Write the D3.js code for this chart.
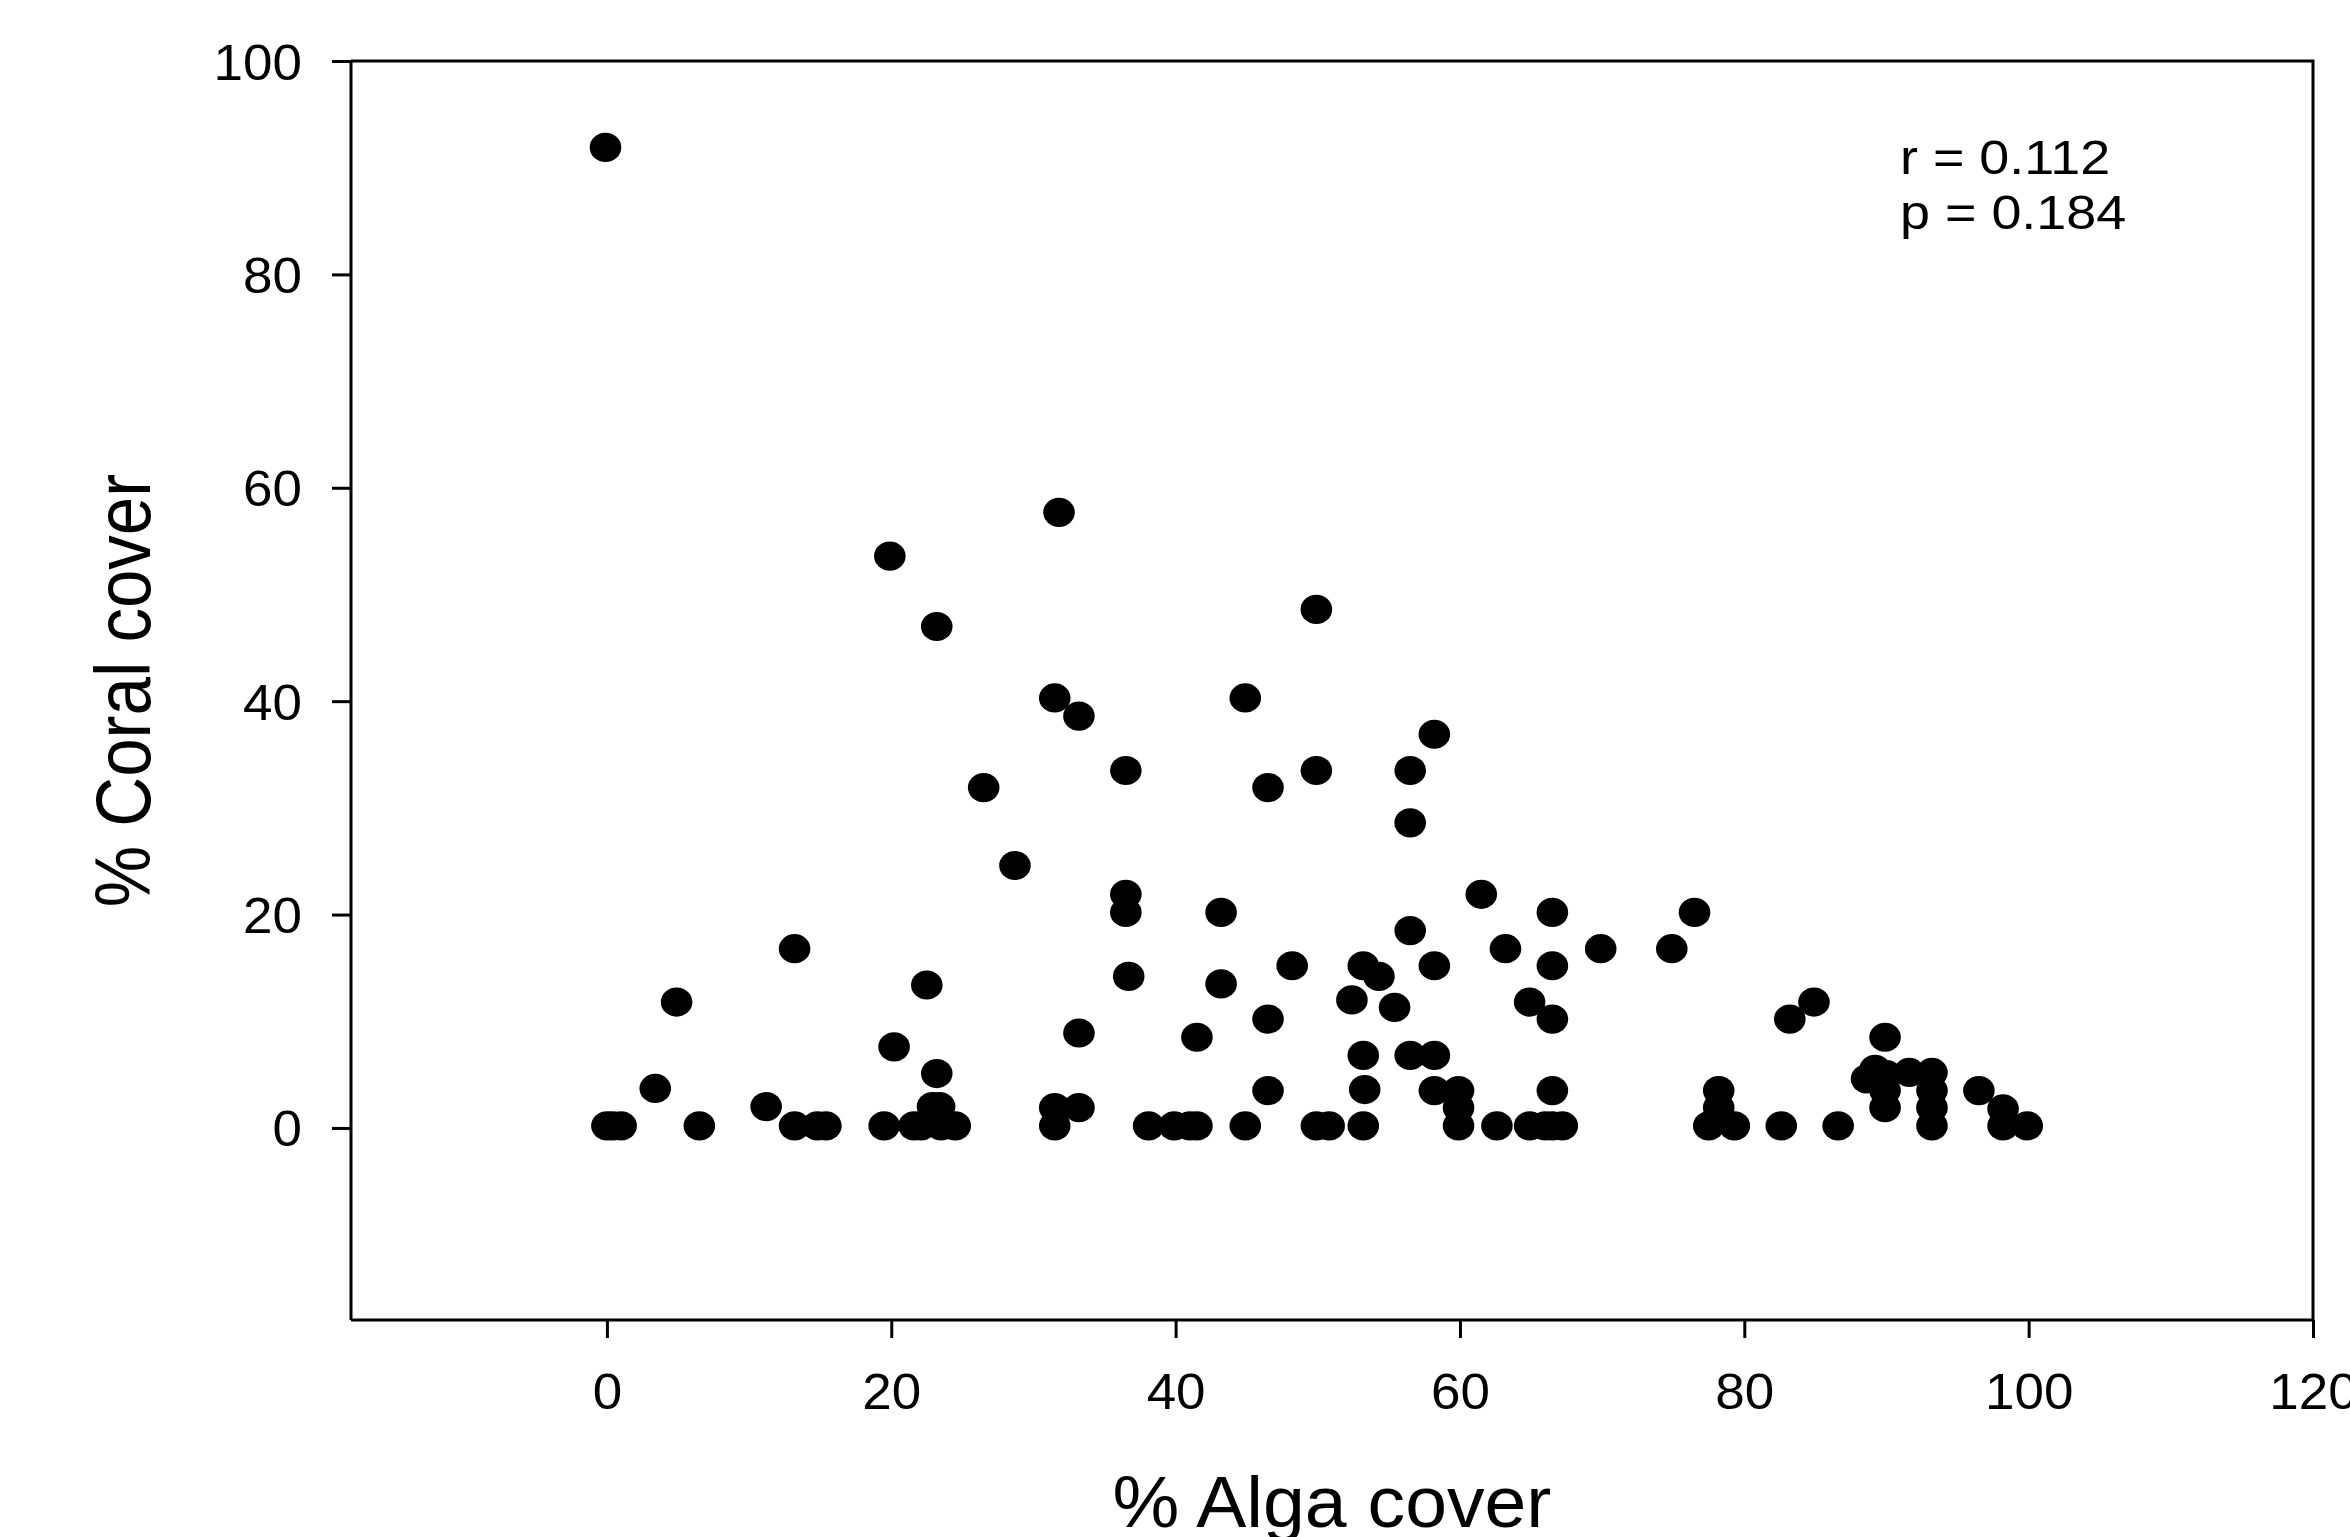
<!DOCTYPE html>
<html>
<head>
<meta charset="utf-8">
<script src="https://cdn.jsdelivr.net/npm/d3@7/dist/d3.min.js"></script>
<style>
  html, body { margin: 0; padding: 0; background: #fff; }
  svg { display: block; }
  text { font-family: "Liberation Sans", Arial, sans-serif; fill: #000; }
</style>
</head>
<body>
<svg id="chart" width="2350" height="1537"></svg>
<script>
// Survey sites: percent alga cover (x) against percent coral cover (y)
const algaCover = [
  -0.1, 19.9, 31.8, 23.2, 49.9, 31.5, 33.2, 44.9, 58.2, 26.5,
  36.5, 46.5, 49.9, 56.5, 56.5, 28.7, 36.5, 36.5, 43.2, 61.5,
  66.5, 76.5, 56.5, 13.2, 63.2, 69.9, 74.9, 36.7, 43.2, 48.2,
  53.2, 54.3, 58.2, 66.5, 22.5, 4.9, 52.4, 55.4, 64.9, 84.9,
  66.5, 46.5, 83.2, 33.2, 41.5, 89.9, 20.2, 53.2, 56.5, 58.2,
  23.2, 3.4, 46.5, 53.3, 58.2, 59.9, 66.5, 78.2, 89.9, 93.2,
  96.5, 88.6, 89.2, 90.0, 91.6, 93.2, 11.2, 22.9, 23.4, 31.5,
  33.2, 59.9, 78.2, 89.9, 93.2, 98.2,
  0.0, 0.4, 1.0, 6.5, 13.2, 14.8, 15.4, 19.5, 21.6, 22.1,
  23.5, 24.5, 31.5, 38.1, 39.9, 41.0, 41.5, 44.9, 49.9, 50.8,
  53.2, 59.9, 62.6, 64.9, 66.0, 66.5, 67.2, 77.5, 79.3, 82.6,
  86.6, 93.2, 98.2, 99.9
];
const coralCover = [
  91.9, 53.6, 57.7, 47.0, 48.6, 40.3, 38.6, 40.3, 36.9, 31.9,
  33.5, 31.9, 33.5, 33.5, 28.6, 24.6, 21.9, 20.2, 20.2, 21.9,
  20.2, 20.2, 18.5, 16.8, 16.8, 16.8, 16.8, 14.2, 13.5, 15.2,
  15.2, 14.2, 15.2, 15.2, 13.4, 11.8, 12.0, 11.3, 11.8, 11.8,
  10.2, 10.2, 10.2, 8.9, 8.5, 8.5, 7.6, 6.8, 6.8, 6.8,
  5.1, 3.7, 3.5, 3.6, 3.5, 3.5, 3.5, 3.5, 3.5, 3.5,
  3.5, 4.6, 5.5, 5.0, 5.2, 5.2, 2.0, 2.0, 2.0, 1.9,
  1.9, 1.9, 1.9, 1.9, 1.9, 1.8,
  0.2, 0.2, 0.2, 0.2, 0.2, 0.2, 0.2, 0.2, 0.2, 0.2,
  0.2, 0.2, 0.2, 0.2, 0.2, 0.2, 0.2, 0.2, 0.2, 0.2,
  0.2, 0.2, 0.2, 0.2, 0.2, 0.2, 0.2, 0.2, 0.2, 0.2,
  0.2, 0.2, 0.2, 0.2
];

const xTicks = [0, 20, 40, 60, 80, 100, 120];
const yTicks = [0, 20, 40, 60, 80, 100];
const xDomain = [-18, 120];
const yDomain = [-18, 100];
const statsLines = ["r = 0.112", "p = 0.184"];
const xTitle = "% Alga cover";
const yTitle = "% Coral cover";

const svg = d3.select("#chart");
const plot = { left: 351, right: 2313, top: 61, bottom: 1320 };

const x = d3.scaleLinear().domain(xDomain).range([plot.left, plot.right]);
const y = d3.scaleLinear().domain(yDomain).range([plot.bottom, plot.top]);

// horizontal stretch applied to glyphs so the text proportions follow the plot
const stretch = 1.06;

// frame (top and right edges)
svg.append("path")
  .attr("d", `M${plot.left},${plot.top}H${plot.right}V${plot.bottom}`)
  .attr("fill", "none").attr("stroke", "#000").attr("stroke-width", 3);

// x axis
const xAxis = svg.append("g")
  .attr("transform", `translate(0,${plot.bottom})`)
  .call(d3.axisBottom(x).tickValues(xTicks).tickSize(18).tickPadding(0).tickFormat(d3.format("d")));
xAxis.select(".domain").attr("stroke-width", 3).attr("d", `M${plot.left},0H${plot.right}`);
xAxis.selectAll(".tick line").attr("stroke-width", 3);
xAxis.selectAll(".tick text")
  .attr("font-size", 50).attr("y", 0).attr("dy", 0)
  .attr("transform", `translate(0,89) scale(${stretch},1)`)
  .style("font-family", "'Liberation Sans', Arial, sans-serif");

// y axis
const yAxis = svg.append("g")
  .attr("transform", `translate(${plot.left},0)`)
  .call(d3.axisLeft(y).tickValues(yTicks).tickSize(19).tickPadding(0).tickFormat(d3.format("d")));
yAxis.select(".domain").attr("stroke-width", 3).attr("d", `M0,${plot.top}V${plot.bottom}`);
yAxis.selectAll(".tick line").attr("stroke-width", 3);
yAxis.selectAll(".tick text")
  .attr("font-size", 50).attr("x", 0).attr("dy", "0.36em")
  .attr("transform", `translate(-49,0) scale(${stretch},1)`)
  .style("font-family", "'Liberation Sans', Arial, sans-serif");

// points
const points = algaCover.map((a, i) => ({ alga: a, coral: coralCover[i] }));
svg.append("g")
  .selectAll("ellipse")
  .data(points)
  .join("ellipse")
  .attr("cx", d => x(d.alga))
  .attr("cy", d => y(d.coral))
  .attr("rx", 15.8)
  .attr("ry", 14.6)
  .attr("fill", "#000");

// correlation statistics
svg.append("g")
  .selectAll("text")
  .data(statsLines)
  .join("text")
  .attr("transform", (d, i) => `translate(1900,${174 + i * 55}) scale(1.1,1)`)
  .attr("font-size", 49)
  .text(d => d);

// axis titles
svg.append("text")
  .attr("transform", `translate(${(plot.left + plot.right) / 2},1527) scale(1.03,1)`)
  .attr("text-anchor", "middle")
  .attr("font-size", 73)
  .text(xTitle);

svg.append("text")
  .attr("transform", `translate(150,${(plot.top + plot.bottom) / 2}) rotate(-90) scale(0.885,1)`)
  .attr("text-anchor", "middle")
  .attr("font-size", 78)
  .text(yTitle);
</script>
</body>
</html>
